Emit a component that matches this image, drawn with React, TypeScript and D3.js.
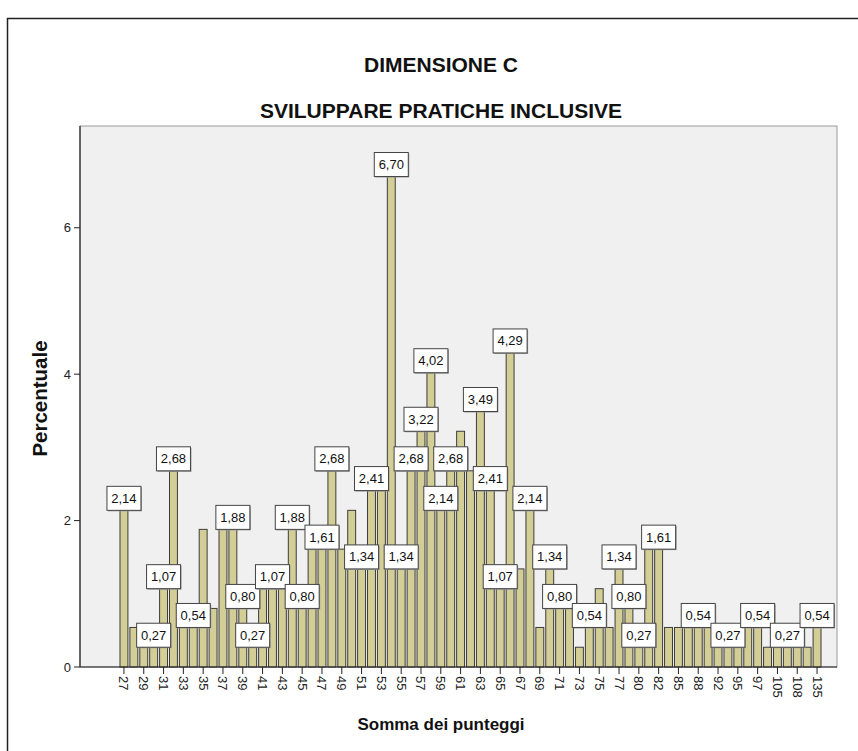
import React from "react";
import * as d3 from "d3";

// Score totals (x categories) and their share of respondents, in percent
const categories = [
  "27", "28", "29", "30", "31", "32", "33", "34", "35", "36",
  "37", "38", "39", "40", "41", "42", "43", "44", "45", "46",
  "47", "48", "49", "50", "51", "52", "53", "54", "55", "56",
  "57", "58", "59", "60", "61", "62", "63", "64", "65", "66",
  "67", "68", "69", "70", "71", "72", "73", "74", "75", "76",
  "77", "78", "80", "81", "82", "84", "85", "87", "88", "90",
  "92", "93", "95", "96", "97", "100", "105", "107", "108", "120",
  "135",
];

const percentages = [
  2.14, 0.54, 0.54, 0.27, 1.07, 2.68, 0.54, 0.54, 1.88, 0.8,
  1.88, 1.88, 0.8, 0.27, 1.07, 1.07, 1.07, 1.88, 0.8, 1.61,
  1.61, 2.68, 1.61, 2.14, 1.34, 2.41, 2.41, 6.7, 1.34, 2.68,
  3.22, 4.02, 2.14, 2.68, 3.22, 2.68, 3.49, 2.41, 1.07, 4.29,
  1.34, 2.14, 0.54, 1.34, 0.8, 0.8, 0.27, 0.54, 1.07, 0.54,
  1.34, 0.8, 0.27, 1.61, 1.61, 0.54, 0.54, 0.54, 0.54, 0.54,
  0.27, 0.27, 0.27, 0.54, 0.54, 0.27, 0.27, 0.27, 0.27, 0.27,
  0.54,
];

// Bars whose value label is displayed (the others are suppressed to avoid overlap)
const labeledCategories = [
  "27", "30", "31", "32", "34", "38", "39", "40", "42", "44",
  "45", "47", "48", "51", "52", "54", "55", "56", "57", "58",
  "59", "60", "63", "64", "65", "66", "68", "70", "71", "74",
  "77", "78", "80", "82", "88", "93", "97", "107", "135",
];

const yTicks = [0, 2, 4, 6];

const titleLines = ["DIMENSIONE  C", "SVILUPPARE PRATICHE INCLUSIVE"];
const xTitle = "Somma dei punteggi";
const yTitle = "Percentuale";

const W = 858;
const H = 751;
const FONT = "'Liberation Sans', Arial, Helvetica, sans-serif";

export default function App() {
  const plot = { left: 80, right: 837, top: 126, bottom: 667 };

  const x = d3
    .scaleBand<string>()
    .domain(categories)
    .range([119, 822])
    .paddingInner(0.2)
    .paddingOuter(0.1);

  const y = d3.scaleLinear().domain([0, 7.39]).range([plot.bottom, plot.top]);

  const fmt = (v: number) => v.toFixed(2).replace(".", ",");
  const labeled = new Set(labeledCategories);

  const data = categories.map((c, i) => ({ c, v: percentages[i] }));
  const boxW = 34;
  const boxH = 24;

  return (
    <svg
      width={W}
      height={H}
      style={{ position: "absolute", left: 0, top: 0, background: "#fff" }}
      fontFamily={FONT}
    >
      {/* outer chart frame */}
      <path d={`M7.5,${H} V18.5 H${W}`} fill="none" stroke="#222" strokeWidth={1.5} />

      {/* titles */}
      <text x={441} y={72} textAnchor="middle" fontSize={21} fontWeight="bold" fill="#111">
        {titleLines[0]}
      </text>
      <text x={441} y={118} textAnchor="middle" fontSize={21} fontWeight="bold" fill="#111">
        {titleLines[1]}
      </text>

      {/* plot background */}
      <rect
        x={plot.left}
        y={plot.top}
        width={plot.right - plot.left}
        height={plot.bottom - plot.top}
        fill="#f0f0f0"
        stroke="#9a9a9a"
        strokeWidth={1}
      />

      {/* bars */}
      {data.map((d) => (
        <rect
          key={d.c}
          x={x(d.c)!}
          y={y(d.v)}
          width={x.bandwidth()}
          height={y(0) - y(d.v)}
          fill="#d3cd96"
          stroke="#3c3c3c"
          strokeWidth={1}
        />
      ))}

      {/* value labels */}
      {data
        .filter((d) => labeled.has(d.c))
        .map((d) => {
          const cx = x(d.c)! + x.bandwidth() / 2;
          const top = y(d.v);
          return (
            <g key={"l" + d.c}>
              <rect
                x={cx - boxW / 2 + 1}
                y={top - boxH + 1}
                width={boxW}
                height={boxH}
                fill="#9a9a9a"
              />
              <rect
                x={cx - boxW / 2}
                y={top - boxH}
                width={boxW}
                height={boxH}
                fill="#fff"
                stroke="#444"
                strokeWidth={1}
              />
              <text
                x={cx}
                y={top - boxH / 2 + 4.5}
                textAnchor="middle"
                fontSize={13}
                fill="#111"
              >
                {fmt(d.v)}
              </text>
            </g>
          );
        })}

      {/* y axis */}
      <line x1={plot.left} x2={plot.left} y1={plot.top} y2={plot.bottom} stroke="#222" strokeWidth={1.2} />
      {yTicks.map((t) => (
        <g key={"y" + t}>
          <line x1={plot.left - 6} x2={plot.left} y1={y(t)} y2={y(t)} stroke="#222" />
          <text x={plot.left - 9} y={y(t) + 4.5} textAnchor="end" fontSize={13} fill="#222">
            {t}
          </text>
        </g>
      ))}

      {/* x axis */}
      <line x1={plot.left} x2={plot.right} y1={plot.bottom} y2={plot.bottom} stroke="#222" strokeWidth={1.2} />
      {categories
        .filter((_, i) => i % 2 === 0)
        .map((c) => {
          const cx = x(c)! + x.bandwidth() / 2;
          return (
            <g key={"x" + c}>
              <line x1={cx} x2={cx} y1={plot.bottom} y2={plot.bottom + 7} stroke="#222" />
              <text
                transform={`translate(${cx - 4.5},${plot.bottom + 9}) rotate(90)`}
                textAnchor="start"
                fontSize={13}
                fill="#222"
              >
                {c}
              </text>
            </g>
          );
        })}

      {/* axis titles */}
      <text x={441} y={730} textAnchor="middle" fontSize={17} fontWeight="bold" fill="#111">
        {xTitle}
      </text>
      <text
        transform={`translate(47,${(plot.top + plot.bottom) / 2 + 2}) rotate(-90)`}
        textAnchor="middle"
        fontSize={20.5}
        fontWeight="bold"
        fill="#111"
      >
        {yTitle}
      </text>
    </svg>
  );
}
